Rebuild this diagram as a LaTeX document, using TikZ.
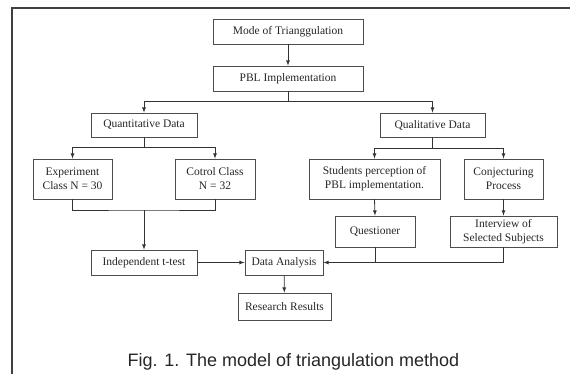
\documentclass[tikz,border=0pt]{standalone}
\usepackage{fontspec}
\setmainfont{Liberation Serif}
\newfontfamily\capfont{Liberation Sans}
\usetikzlibrary{shapes,arrows,positioning}

\begin{document}
\begin{tikzpicture}[x=1pt, y=-1pt, >=latex, line width=0.8pt]
            % Styles
            \tikzstyle{block} = [rectangle, draw=black!70, text=black!85, align=center,
            inner sep=0pt, font=\fontsize{11.5}{14}\selectfont]
            \tikzstyle{line} = [draw=black!80]

            \useasboundingbox (0,0) rectangle (570,374);
            \draw [line width=2pt, black!75] (570,8) -- (12,8) -- (12,374);

            \node [block, minimum width=150, minimum height=25] (mode) at (288,31.5) {Mode of Trianggulation};
            \node [block, minimum width=150, minimum height=25] (pbl) at (288,78.5) {PBL Implementation};
            \node [block, minimum width=106, minimum height=24] (quant) at (144,125) {Quantitative Data};
            \node [block, minimum width=105, minimum height=24] (qual) at (432.5,125) {Qualitative Data};
            \node [block, minimum width=79, minimum height=40] (exp) at (72.5,179) {Experiment \\ Class N = 30};
            \node [block, minimum width=80, minimum height=40] (ctrl) at (215,179) {Cotrol Class \\ N = 32};
            \node [block, minimum width=131, minimum height=40] (stud) at (374.5,179) {Students perception of \\ PBL implementation.};
            \node [block, minimum width=79, minimum height=40] (conj) at (503.5,179) {Conjecturing \\ Process};
            \node [block, minimum width=80, minimum height=31] (quest) at (375,231.5) {Questioner};
            \node [block, minimum width=107, minimum height=31] (interv) at (503.5,231.5) {Interview of \\ Selected Subjects};
            \node [block, minimum width=106, minimum height=25] (indep) at (144,262.5) {Independent t-test};
            \node [block, minimum width=78, minimum height=25] (data) at (284,262.5) {Data Analysis};
            \node [block, minimum width=93, minimum height=27] (res) at (284.5,306.5) {Research Results};
            \node [anchor=base, text=black!85, font=\capfont\fontsize{18}{20}\selectfont] (cap) at (293.5,366) {Fig. 1. The model of triangulation method};

            \coordinate (qjoin) at (144,210);

            \draw [line, ->] (mode) -- (pbl);
            \draw [line, ->] (pbl.south) -- ++(0,10) -| (quant.north);
            \draw [line, ->] (pbl.south) -- ++(0,10) -| (qual.north);
            \draw [line, ->] (quant.south) -- ++(0,10) -| (exp.north);
            \draw [line, ->] (quant.south) -- ++(0,10) -| (ctrl.north);
            \draw [line, ->] (qual.south) -- ++(0,11) -| (stud.north);
            \draw [line, ->] (qual.south) -- ++(0,11) -| (conj.north);
            \draw [line] (exp.south) |- (qjoin) -| (ctrl.south);
            \draw [line, ->] (qjoin) -- (indep.north);
            \draw [line, ->] (stud.south) -- (quest.north);
            \draw [line, ->] (conj.south) -- (interv.north);
            \draw [line, ->] (indep) -- (data);
            \draw [line] (quest.south) -- (quest.south |- data.east);
            \draw [line, ->] (interv.south) |- (data.east);
            \draw [line, ->] (data) -- (res);
      \end{tikzpicture}
\end{document}
